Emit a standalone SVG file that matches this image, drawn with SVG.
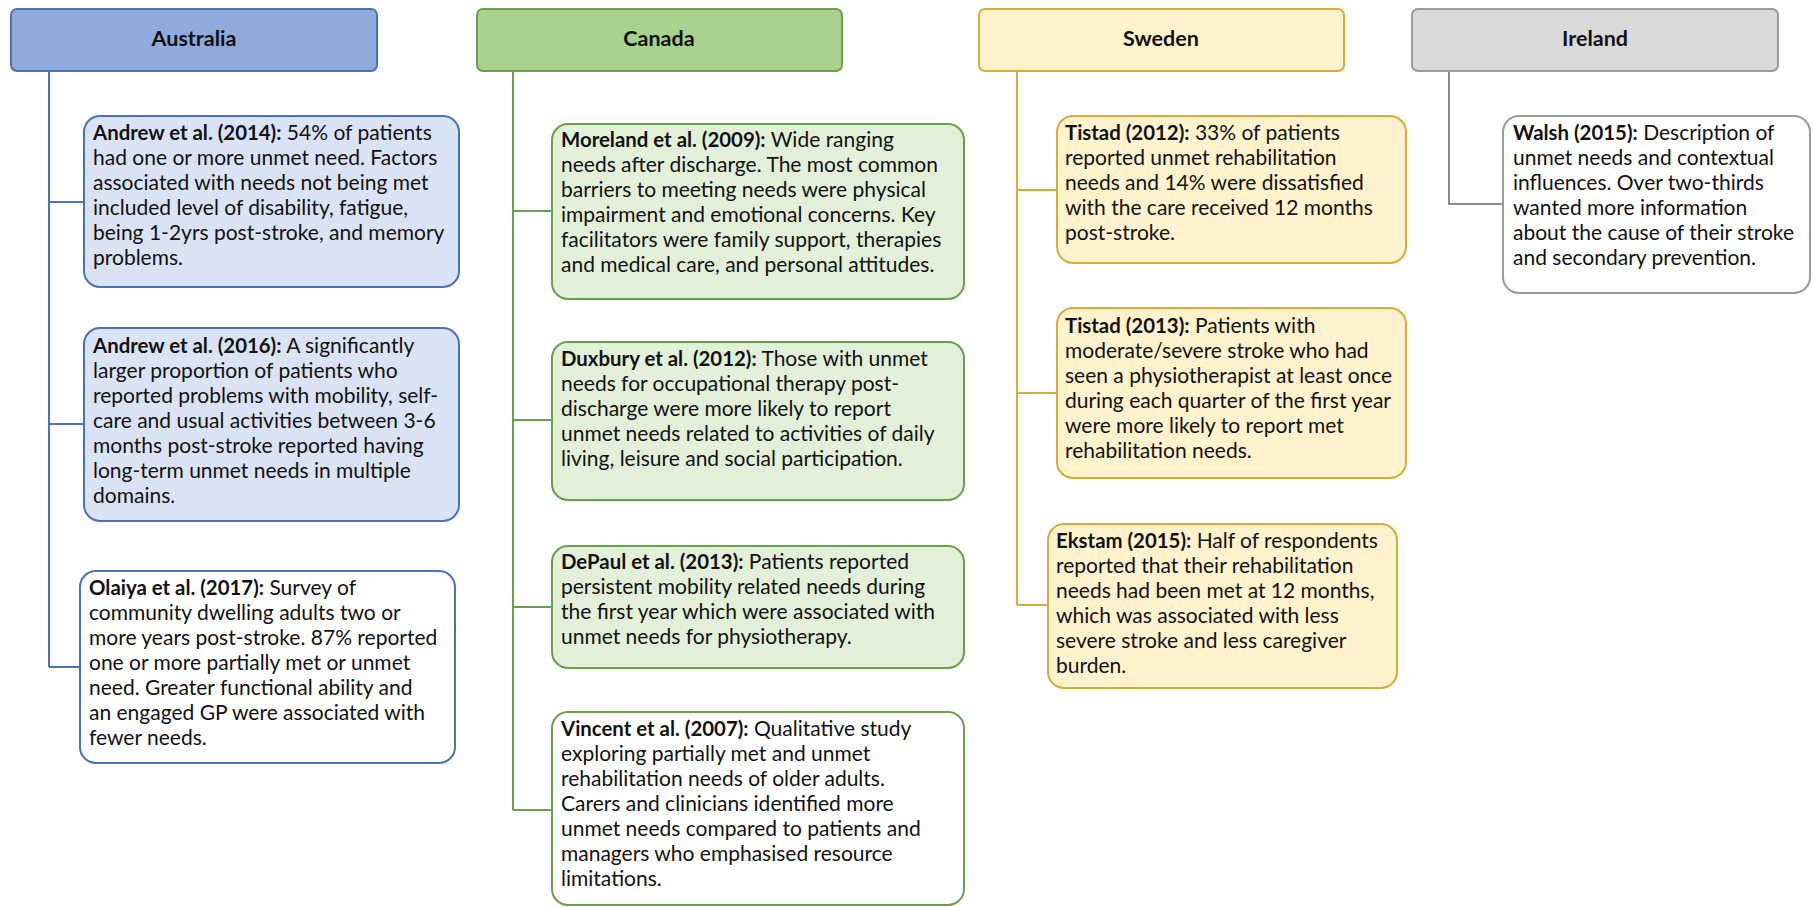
<svg xmlns="http://www.w3.org/2000/svg" width="1813" height="907" viewBox="0 0 1813 907">
  <style>
    text { font-family: Lato, "Open Sans", "Liberation Sans", sans-serif; font-size: 21px; fill: #111; }
    .hd { font-weight: bold; text-anchor: middle; font-size: 21.5px; }
    .b { font-weight: bold; font-size: 20.4px; }
    .au-h { fill: #8faadc; stroke: #4a72b8; stroke-width: 2; }
    .au-b { fill: #dae3f3; stroke: #4a72b8; stroke-width: 2; }
    .au-w { fill: #ffffff; stroke: #4a72b8; stroke-width: 2; }
    .ca-h { fill: #a9d18e; stroke: #6a9f4c; stroke-width: 2; }
    .ca-b { fill: #e2f0d9; stroke: #6a9f4c; stroke-width: 2; }
    .ca-w { fill: #ffffff; stroke: #6a9f4c; stroke-width: 2; }
    .se-h { fill: #fff2cc; stroke: #d6ad37; stroke-width: 2; }
    .se-b { fill: #fff2cc; stroke: #d6ad37; stroke-width: 2; }
    .ie-h { fill: #d9d9d9; stroke: #9a9a9a; stroke-width: 2; }
    .ie-w { fill: #ffffff; stroke: #9a9a9a; stroke-width: 2; }
    .c-au { stroke: #4a72b8; }
    .c-ca { stroke: #6a9f4c; }
    .c-se { stroke: #d6ad37; }
    .c-ie { stroke: #8c8c8c; }
    #connectors path { fill: none; stroke-width: 2; }
  </style>

  <!-- tree lines from each country header to its studies -->
  <g id="connectors">
    <path class="c-au" d="M49 71 V667 M49 202 H84 M49 424 H84 M49 667 H80"/>
    <path class="c-ca" d="M513 71 V810 M513 211 H552 M513 420 H552 M513 607 H552 M513 810 H552"/>
    <path class="c-se" d="M1017 71 V605 M1017 190 H1057 M1017 393 H1057 M1017 605 H1048"/>
    <path class="c-ie" d="M1449 71 V204 H1503"/>
  </g>

  <!-- Australia -->
  <g id="australia">
    <rect class="au-h" x="11" y="9" width="366" height="62" rx="6"/>
    <text class="hd" x="194" y="46">Australia</text>
  </g>
  <g id="andrew-2014">
    <rect class="au-b" x="84" y="116" width="375" height="171" rx="16"/>
    <text x="93" y="140"><tspan class="b">Andrew et al. (2014):</tspan> 54% of patients</text>
    <text x="93" y="165">had one or more unmet need. Factors</text>
    <text x="93" y="190">associated with needs not being met</text>
    <text x="93" y="215">included level of disability, fatigue,</text>
    <text x="93" y="240">being 1-2yrs post-stroke, and memory</text>
    <text x="93" y="265">problems.</text>
  </g>
  <g id="andrew-2016">
    <rect class="au-b" x="84" y="328" width="375" height="193" rx="16"/>
    <text x="93" y="353"><tspan class="b">Andrew et al. (2016):</tspan> A significantly</text>
    <text x="93" y="378">larger proportion of patients who</text>
    <text x="93" y="403">reported problems with mobility, self-</text>
    <text x="93" y="428">care and usual activities between 3-6</text>
    <text x="93" y="453">months post-stroke reported having</text>
    <text x="93" y="478">long-term unmet needs in multiple</text>
    <text x="93" y="503">domains.</text>
  </g>
  <g id="olaiya-2017">
    <rect class="au-w" x="80" y="571" width="375" height="192" rx="16"/>
    <text x="89" y="595"><tspan class="b">Olaiya et al. (2017):</tspan> Survey of</text>
    <text x="89" y="620">community dwelling adults two or</text>
    <text x="89" y="645">more years post-stroke. 87% reported</text>
    <text x="89" y="670">one or more partially met or unmet</text>
    <text x="89" y="695">need. Greater functional ability and</text>
    <text x="89" y="720">an engaged GP were associated with</text>
    <text x="89" y="745">fewer needs.</text>
  </g>

  <!-- Canada -->
  <g id="canada">
    <rect class="ca-h" x="477" y="9" width="365" height="62" rx="6"/>
    <text class="hd" x="659" y="46">Canada</text>
  </g>
  <g id="moreland-2009">
    <rect class="ca-b" x="552" y="124" width="412" height="175" rx="16"/>
    <text x="561" y="147"><tspan class="b">Moreland et al. (2009):</tspan> Wide ranging</text>
    <text x="561" y="172">needs after discharge. The most common</text>
    <text x="561" y="197">barriers to meeting needs were physical</text>
    <text x="561" y="222">impairment and emotional concerns. Key</text>
    <text x="561" y="247">facilitators were family support, therapies</text>
    <text x="561" y="272">and medical care, and personal attitudes.</text>
  </g>
  <g id="duxbury-2012">
    <rect class="ca-b" x="552" y="342" width="412" height="158" rx="16"/>
    <text x="561" y="366"><tspan class="b">Duxbury et al. (2012):</tspan> Those with unmet</text>
    <text x="561" y="391">needs for occupational therapy post-</text>
    <text x="561" y="416">discharge were more likely to report</text>
    <text x="561" y="441">unmet needs related to activities of daily</text>
    <text x="561" y="466">living, leisure and social participation.</text>
  </g>
  <g id="depaul-2013">
    <rect class="ca-b" x="552" y="546" width="412" height="122" rx="16"/>
    <text x="561" y="569"><tspan class="b">DePaul et al. (2013):</tspan> Patients reported</text>
    <text x="561" y="594">persistent mobility related needs during</text>
    <text x="561" y="619">the first year which were associated with</text>
    <text x="561" y="644">unmet needs for physiotherapy.</text>
  </g>
  <g id="vincent-2007">
    <rect class="ca-w" x="552" y="712" width="412" height="193" rx="16"/>
    <text x="561" y="736"><tspan class="b">Vincent et al. (2007):</tspan> Qualitative study</text>
    <text x="561" y="761">exploring partially met and unmet</text>
    <text x="561" y="786">rehabilitation needs of older adults.</text>
    <text x="561" y="811">Carers and clinicians identified more</text>
    <text x="561" y="836">unmet needs compared to patients and</text>
    <text x="561" y="861">managers who emphasised resource</text>
    <text x="561" y="886">limitations.</text>
  </g>

  <!-- Sweden -->
  <g id="sweden">
    <rect class="se-h" x="979" y="9" width="365" height="62" rx="6"/>
    <text class="hd" x="1161" y="46">Sweden</text>
  </g>
  <g id="tistad-2012">
    <rect class="se-b" x="1057" y="116" width="349" height="147" rx="16"/>
    <text x="1065" y="140"><tspan class="b">Tistad (2012):</tspan> 33% of patients</text>
    <text x="1065" y="165">reported unmet rehabilitation</text>
    <text x="1065" y="190">needs and 14% were dissatisfied</text>
    <text x="1065" y="215">with the care received 12 months</text>
    <text x="1065" y="240">post-stroke.</text>
  </g>
  <g id="tistad-2013">
    <rect class="se-b" x="1057" y="308" width="349" height="170" rx="16"/>
    <text x="1065" y="333"><tspan class="b">Tistad (2013):</tspan> Patients with</text>
    <text x="1065" y="358">moderate/severe stroke who had</text>
    <text x="1065" y="383">seen a physiotherapist at least once</text>
    <text x="1065" y="408">during each quarter of the first year</text>
    <text x="1065" y="433">were more likely to report met</text>
    <text x="1065" y="458">rehabilitation needs.</text>
  </g>
  <g id="ekstam-2015">
    <rect class="se-b" x="1048" y="524" width="349" height="164" rx="16"/>
    <text x="1056" y="548"><tspan class="b">Ekstam (2015):</tspan> Half of respondents</text>
    <text x="1056" y="573">reported that their rehabilitation</text>
    <text x="1056" y="598">needs had been met at 12 months,</text>
    <text x="1056" y="623">which was associated with less</text>
    <text x="1056" y="648">severe stroke and less caregiver</text>
    <text x="1056" y="673">burden.</text>
  </g>

  <!-- Ireland -->
  <g id="ireland">
    <rect class="ie-h" x="1412" y="9" width="366" height="62" rx="6"/>
    <text class="hd" x="1595" y="46">Ireland</text>
  </g>
  <g id="walsh-2015">
    <rect class="ie-w" x="1503" y="116" width="307" height="177" rx="16"/>
    <text x="1513" y="140"><tspan class="b">Walsh (2015):</tspan> Description of</text>
    <text x="1513" y="165">unmet needs and contextual</text>
    <text x="1513" y="190">influences. Over two-thirds</text>
    <text x="1513" y="215">wanted more information</text>
    <text x="1513" y="240">about the cause of their stroke</text>
    <text x="1513" y="265">and secondary prevention.</text>
  </g>
</svg>
